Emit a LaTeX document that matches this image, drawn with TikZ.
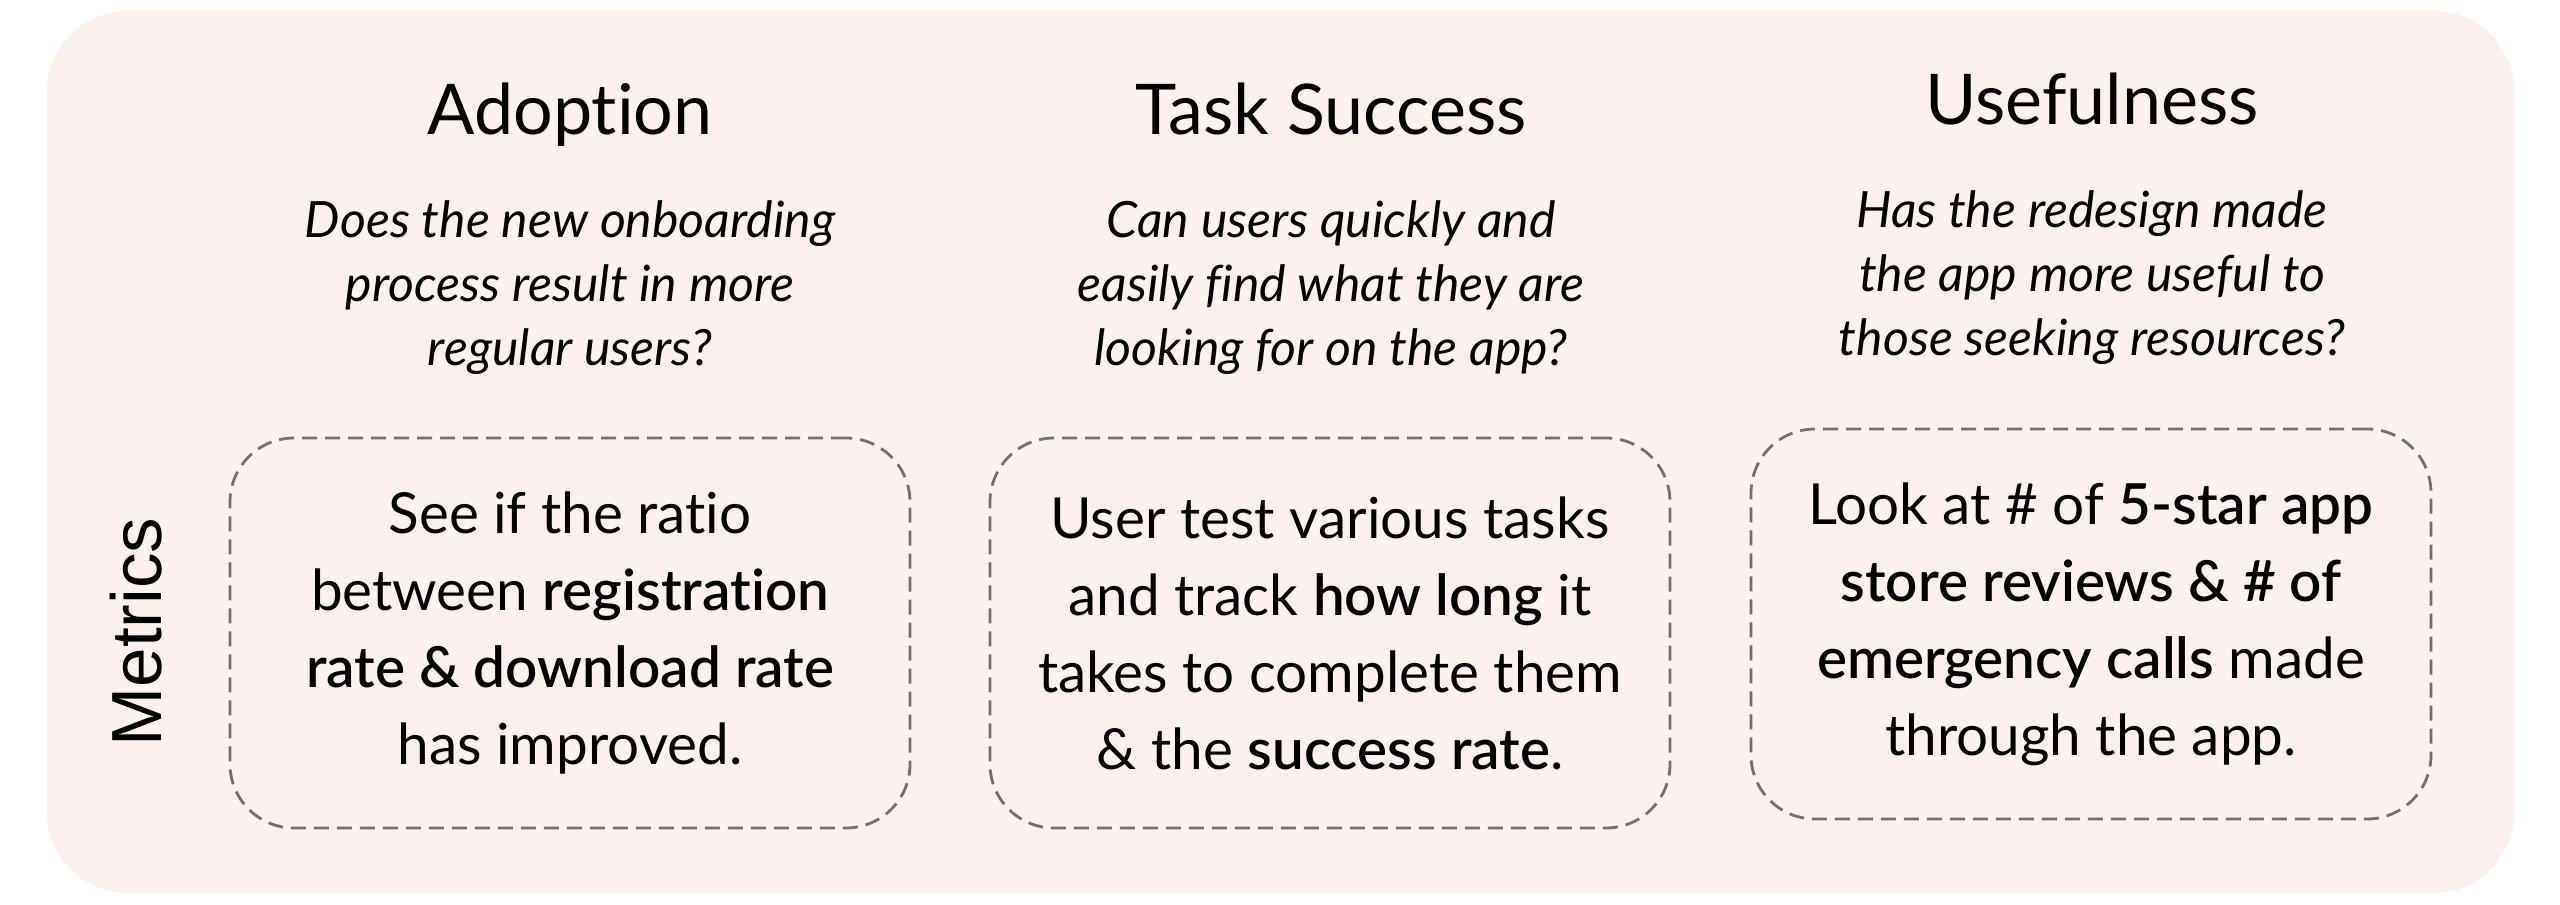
\documentclass[tikz,border=0pt]{standalone}
\usepackage{fontspec}
\setmainfont{Lato}[BoldFont={Lato Semibold}, Ligatures=NoCommon]
\newfontfamily\arialfont{Liberation Sans}
\definecolor{bgpink}{HTML}{FDF1F0}
\definecolor{dashgray}{HTML}{707070}
\tikzset{
  titletext/.style={font=\fontsize{35}{42}\selectfont, anchor=base},
  questiontext/.style={font=\fontsize{25}{32}\selectfont\itshape, align=center},
  metricbox/.style={draw=dashgray, line width=1.4pt, dash pattern=on 7.5pt off 4pt,
    rounded corners=32pt, minimum width=340pt, minimum height=195pt,
    align=center, font=\fontsize{28.3}{38.5}\selectfont, inner sep=0pt},
}
\begin{document}
\begin{tikzpicture}[x=0.5pt,y=-0.5pt]
\useasboundingbox (0,0) rectangle (2560,905);
\fill[bgpink, rounded corners=40pt] (47,11) rectangle (2514,893);

\node[titletext] (t1) at (570,134) {Adoption};
\node[titletext] (t2) at (1331,134) {Task Success};
\node[titletext] (t3) at (2092,124) {Usefulness};

\node[questiontext] (q1) at (570,288) {Does the new onboarding\\process result in more\\regular users?};
\node[questiontext] (q2) at (1331,288) {Can users quickly and\\easily find what they are\\looking for on the app?};
\node[questiontext] (q3) at (2092,278) {Has the redesign made\\the app more useful to\\those seeking resources?};

\node[metricbox] (m1) at (570,633) {See if the ratio\\between \textbf{registration}\\\textbf{rate \& download rate}\\has improved.};
\node[metricbox] (m2) at (1330,633) {User test various tasks\\and track \textbf{how long} it\\takes to complete them\\\& the \textbf{success rate}.};
\node[metricbox] (m3) at (2091,624) {Look at \# of \textbf{5-star app}\\\textbf{store reviews \& \# of}\\\textbf{emergency calls} made\\through the app.};

\node[rotate=90, font=\arialfont\fontsize{35.5}{40}\selectfont] (met) at (136,632) {Metrics};
\end{tikzpicture}
\end{document}
